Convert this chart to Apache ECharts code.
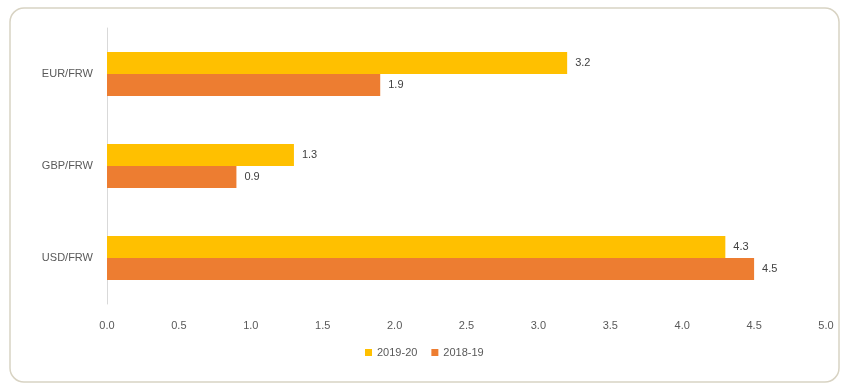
<!DOCTYPE html>
<html><head><meta charset="utf-8">
<script src="https://cdn.jsdelivr.net/npm/echarts@6/dist/echarts.min.js"></script>
<style>html,body{margin:0;padding:0;background:#fff}#c{width:850px;height:390px}</style>
</head><body><div id="c"></div>
<script>
var categories = ['USD/FRW', 'GBP/FRW', 'EUR/FRW'];
var values2019_20 = [4.3, 1.3, 3.2];
var values2018_19 = [4.5, 0.9, 1.9];
var xTicks = [0, 0.5, 1, 1.5, 2, 2.5, 3, 3.5, 4, 4.5, 5];

var chart = echarts.init(document.getElementById('c'));
var lbl = {show: true, position: 'right', distance: 8, color: '#404040', fontSize: 11, fontFamily: 'Liberation Sans', formatter: function(p){return p.value.toFixed(1);}};
chart.setOption({
  animation: false,
  graphic: [{type: 'rect', shape: {x: 10, y: 8, width: 829, height: 374, r: 14}, style: {fill: 'none', stroke: '#d8d3c3', lineWidth: 1.5}, z: -1}],
  grid: {left: 107, right: 24, top: 28, bottom: 86},
  legend: {data: ['2019-20', '2018-19'], left: 360, top: 342, itemWidth: 7, itemHeight: 7, itemGap: 14, icon: 'rect',
    textStyle: {color: '#595959', fontSize: 11, fontFamily: 'Liberation Sans'}},
  xAxis: {type: 'value', min: xTicks[0], max: xTicks[xTicks.length-1], interval: 0.5,
    axisLine: {show: false}, axisTick: {show: false}, splitLine: {show: false},
    axisLabel: {color: '#595959', fontSize: 11, fontFamily: 'Liberation Sans', margin: 16, formatter: function(v){return v.toFixed(1);}}},
  yAxis: {type: 'category', data: categories,
    axisLine: {show: true, lineStyle: {color: '#d9d9d9'}}, axisTick: {show: false},
    axisLabel: {color: '#595959', fontSize: 11, fontFamily: 'Liberation Sans', margin: 14}},
  series: [
    {name: '2019-20', type: 'bar', data: values2019_20, barGap: '0%', barCategoryGap: '52%', itemStyle: {color: '#FFC000'}, label: lbl},
    {name: '2018-19', type: 'bar', data: values2018_19, barGap: '0%', barCategoryGap: '52%', itemStyle: {color: '#ED7D31'}, label: lbl}
  ]
});
</script></body></html>
